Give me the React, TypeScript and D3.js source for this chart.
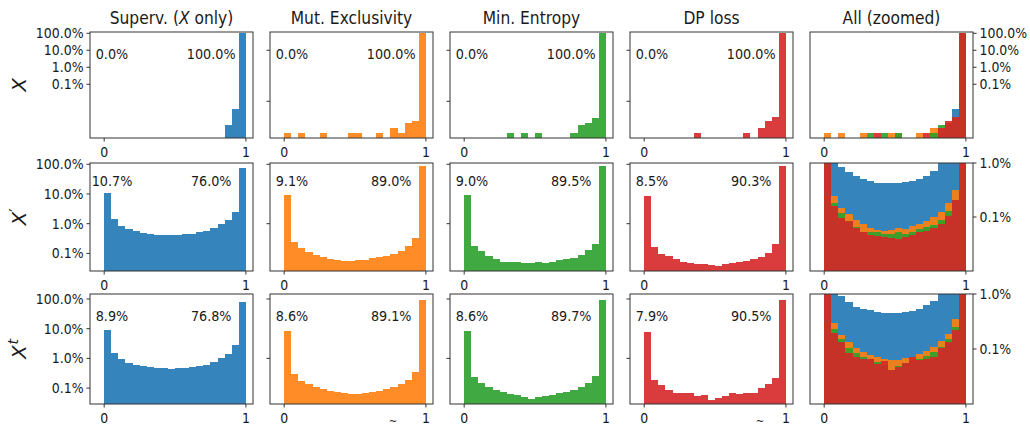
import React from 'react';
import * as d3 from 'd3';

// ---------- data ----------
const binStarts = [0, 0.05, 0.1, 0.15, 0.2, 0.25, 0.3, 0.35, 0.4, 0.45, 0.5, 0.55, 0.6, 0.65, 0.7, 0.75, 0.8, 0.85, 0.9, 0.95];
const binWidth = 0.05;

const columnTitles = [
  [{ t: 'Superv. (' }, { t: 'X', i: true }, { t: ' only)' }],
  [{ t: 'Mut. Exclusivity' }],
  [{ t: 'Min. Entropy' }],
  [{ t: 'DP loss' }],
  [{ t: 'All (zoomed)' }],
];

const seriesColors = ['#1f77b4', '#ff7f0e', '#2ca02c', '#d62728'];

// Row X
const supervX = [0, 0, 0, 0, 0, 0, 0, 0, 0, 0, 0, 0, 0, 0, 0, 0, 0, 3.9e-6, 3.5e-5, 0.99996];
const mutexX = [1.3e-6, 0, 1.3e-6, 0, 0, 1.3e-6, 0, 0, 0, 1.3e-6, 1.3e-6, 0, 0, 1.3e-6, 0, 2.6e-6, 1.3e-6, 5.2e-6, 7.2e-6, 0.99997];
const minentX = [0, 0, 0, 0, 0, 0, 1.3e-6, 0, 1.3e-6, 0, 1.3e-6, 0, 0, 0, 0, 1.3e-6, 3.9e-6, 5.2e-6, 1.0e-5, 0.99998];
const dplossX = [0, 0, 0, 0, 0, 0, 0, 1.3e-6, 0, 0, 0, 0, 0, 0, 1.3e-6, 0, 2.6e-6, 6.5e-6, 1.15e-5, 0.99998];

// Row X'
const supervXp = [0.107, 0.014, 0.0085, 0.0068, 0.0057, 0.005, 0.0046, 0.0043, 0.0042, 0.0042, 0.0042, 0.0044, 0.0046, 0.0051, 0.0058, 0.0072, 0.0101, 0.013, 0.025, 0.76];
const mutexXp = [0.091, 0.0025, 0.00147, 0.00114, 0.00087, 0.00075, 0.00063, 0.00058, 0.00055, 0.00057, 0.00062, 0.0006, 0.00068, 0.00075, 0.00083, 0.00099, 0.00122, 0.0018, 0.0032, 0.89];
const minentXp = [0.09, 0.0018, 0.0012, 0.00081, 0.00066, 0.00053, 0.00053, 0.00053, 0.00049, 0.00049, 0.00053, 0.00049, 0.00053, 0.0006, 0.00066, 0.00072, 0.00089, 0.0013, 0.0021, 0.895];
const dplossXp = [0.085, 0.00158, 0.00096, 0.00083, 0.00063, 0.00052, 0.00047, 0.00045, 0.00043, 0.00041, 0.00039, 0.00043, 0.00047, 0.00052, 0.00054, 0.00063, 0.00075, 0.00103, 0.0021, 0.903];

// Row X^t
const supervXt = [0.089, 0.0155, 0.0093, 0.0071, 0.0058, 0.0054, 0.0051, 0.0048, 0.0046, 0.0045, 0.0046, 0.0047, 0.005, 0.0054, 0.0062, 0.0075, 0.0102, 0.0139, 0.028, 0.768];
const mutexXt = [0.086, 0.003, 0.0018, 0.00135, 0.00105, 0.0009, 0.00078, 0.00072, 0.00066, 0.00062, 0.00064, 0.00068, 0.00072, 0.0008, 0.00092, 0.0011, 0.0014, 0.0019, 0.0035, 0.891];
const minentXt = [0.086, 0.0023, 0.0015, 0.00105, 0.00085, 0.00072, 0.00065, 0.00058, 0.00052, 0.00042, 0.0005, 0.00055, 0.0006, 0.00066, 0.00075, 0.00088, 0.0011, 0.0015, 0.0025, 0.897];
const dplossXt = [0.079, 0.00194, 0.00132, 0.00084, 0.00071, 0.00066, 0.00066, 0.00053, 0.0006, 0.00041, 0.00048, 0.00056, 0.00071, 0.00062, 0.00066, 0.00071, 0.00104, 0.00134, 0.0022, 0.905];

const rowData = [
  [supervX, mutexX, minentX, dplossX],
  [supervXp, mutexXp, minentXp, dplossXp],
  [supervXt, mutexXt, minentXt, dplossXt],
];

const yTickVals = [1, 0.1, 0.01, 0.001];
const yTickText = ['100.0%', '10.0%', '1.0%', '0.1%'];
const zoomTickVals = [0.01, 0.001];
const zoomTickText = ['1.0%', '0.1%'];
const innerTickVals = [[0.1, 1e-4], [1, 0.01], [1, 0.01]];
const xTickVals = [0, 1];
const xTickText = ['0', '1'];

// ---------- layout ----------
const W = 1030;
const H = 428;
const COL_X = [90, 270, 450, 630, 810];
const PANEL_W = 163;
const ROW_Y = [[32, 138], [163, 271], [294, 404]];
const ROW_YLIM = [[6.9e-7, 1.19], [2.55e-4, 1.105], [2.92e-4, 1.47]];
const ZOOM_YLIM = [1e-4, 1e-2];
const ANNOT_DY = [27, 23, 27];
const FONT = 'DejaVu Sans';
const TXT = '#1a1a1a';
const AX = '#333';
const SX = 0.9; // horizontal squeeze of glyphs seen in the reference

function fmtPct(v: number) {
  return (v * 100).toFixed(1) + '%';
}

function SText({ x, y, size, anchor, dy, children }: any) {
  return (
    <text
      transform={`translate(${x},${y}) scale(${SX},1)`}
      fontSize={size / SX}
      textAnchor={anchor}
      dy={dy}
      fontFamily={FONT}
      fill={TXT}
    >
      {children}
    </text>
  );
}

function RowLabel({ r, cy }: { r: number; cy: number }) {
  return (
    <text transform={`translate(26,${cy}) rotate(-90)`} textAnchor="middle" fontFamily={FONT} fontSize={20} fill={TXT}>
      <tspan fontStyle="italic">X</tspan>
      {r === 1 && <tspan fontSize={15} dy={-5}>′</tspan>}
      {r === 2 && <tspan fontSize={14} fontStyle="italic" dy={-8} dx={1}>t</tspan>}
    </text>
  );
}

function Panel({ r, c }: { r: number; c: number }) {
  const [top, bot] = ROW_Y[r];
  const x0 = COL_X[c];
  const isZoom = c === 4;
  const xs = d3.scaleLinear().domain([-0.1, 1.05]).range([x0, x0 + PANEL_W]);
  const ylim = isZoom && r > 0 ? ZOOM_YLIM : ROW_YLIM[r];
  const ys = d3.scaleLog().domain(ylim).range([bot, top]);
  const seriesIdx = isZoom ? [0, 1, 2, 3] : [c];
  const clipId = `clip-${r}-${c}`;

  const bars: any[] = [];
  seriesIdx.forEach((s) => {
    const vals = rowData[r][s];
    vals.forEach((v, i) => {
      if (v <= ylim[0]) return;
      const xa = xs(binStarts[i]);
      const xb = xs(binStarts[i] + binWidth);
      const yv = ys(Math.min(v, ylim[1] * 1.01));
      bars.push(
        <rect key={`${s}-${i}`} x={xa} y={yv} width={xb - xa} height={bot - yv} fill={seriesColors[s]} fillOpacity={0.9} />
      );
    });
  });

  const vals = rowData[r][c];
  return (
    <g>
      <defs>
        <clipPath id={clipId}>
          <rect x={x0} y={top} width={PANEL_W} height={bot - top} />
        </clipPath>
      </defs>
      <g clipPath={`url(#${clipId})`} shapeRendering="crispEdges">{bars}</g>
      {!isZoom && (
        <g>
          <SText x={xs(0.055)} y={top + ANNOT_DY[r]} size={12.8} anchor="middle">{fmtPct(vals[0])}</SText>
          <SText x={xs(0.755)} y={top + ANNOT_DY[r]} size={12.8} anchor="middle">{fmtPct(vals[19])}</SText>
        </g>
      )}
      <rect x={x0} y={top} width={PANEL_W} height={bot - top} fill="none" stroke={AX} strokeWidth={1} />
      {xTickVals.map((t, k) => (
        <g key={`xt${k}`}>
          <line x1={xs(t)} x2={xs(t)} y1={bot} y2={bot + 3.5} stroke={AX} strokeWidth={1} />
          <SText x={xs(t)} y={bot + 18.5} size={12.5} anchor="middle">{xTickText[k]}</SText>
        </g>
      ))}
      {c === 0 &&
        yTickVals.map((t, k) => (
          <g key={`yt${k}`}>
            <line x1={x0 - 3.5} x2={x0} y1={ys(t)} y2={ys(t)} stroke={AX} strokeWidth={1} />
            <SText x={x0 - 6.5} y={ys(t)} dy="0.36em" size={12.5} anchor="end">{yTickText[k]}</SText>
          </g>
        ))}
      {c > 0 && c < 4 &&
        innerTickVals[r].map((t, k) => (
          <line key={`it${k}`} x1={x0 - 3.5} x2={x0} y1={ys(t)} y2={ys(t)} stroke={AX} strokeWidth={1} />
        ))}
      {isZoom &&
        (r === 0 ? yTickVals : zoomTickVals).map((t, k) => (
          <g key={`zt${k}`}>
            <line x1={x0 + PANEL_W} x2={x0 + PANEL_W + 3.5} y1={ys(t)} y2={ys(t)} stroke={AX} strokeWidth={1} />
            <SText x={x0 + PANEL_W + 6.5} y={ys(t)} dy="0.36em" size={12.5} anchor="start">
              {(r === 0 ? yTickText : zoomTickText)[k]}
            </SText>
          </g>
        ))}
      {r === 0 && (
        <SText x={x0 + PANEL_W / 2} y={top - 8} size={15.5} anchor="middle">
          {columnTitles[c].map((seg: any, k: number) => (
            <tspan key={k} fontStyle={seg.i ? 'italic' : 'normal'}>{seg.t}</tspan>
          ))}
        </SText>
      )}
    </g>
  );
}

export default function App() {
  const panels: any[] = [];
  for (let r = 0; r < 3; r++) {
    for (let c = 0; c < 5; c++) {
      panels.push(<Panel key={`${r}-${c}`} r={r} c={c} />);
    }
  }
  return (
    <div style={{ position: 'absolute', left: 0, top: 0 }}>
      <svg width={W} height={H} viewBox={`0 0 ${W} ${H}`} style={{ display: 'block', background: '#fff' }}>
        <rect x={0} y={0} width={W} height={H} fill="#fff" />
        {panels}
        {ROW_Y.map(([t, b], r) => (
          <RowLabel key={r} r={r} cy={(t + b) / 2} />
        ))}
        <text x={393} y={425} textAnchor="middle" fontFamily={FONT} fontSize={10} fill={TXT}>~</text>
        <text x={760} y={425} textAnchor="middle" fontFamily={FONT} fontSize={10} fill={TXT}>~</text>
      </svg>
    </div>
  );
}
